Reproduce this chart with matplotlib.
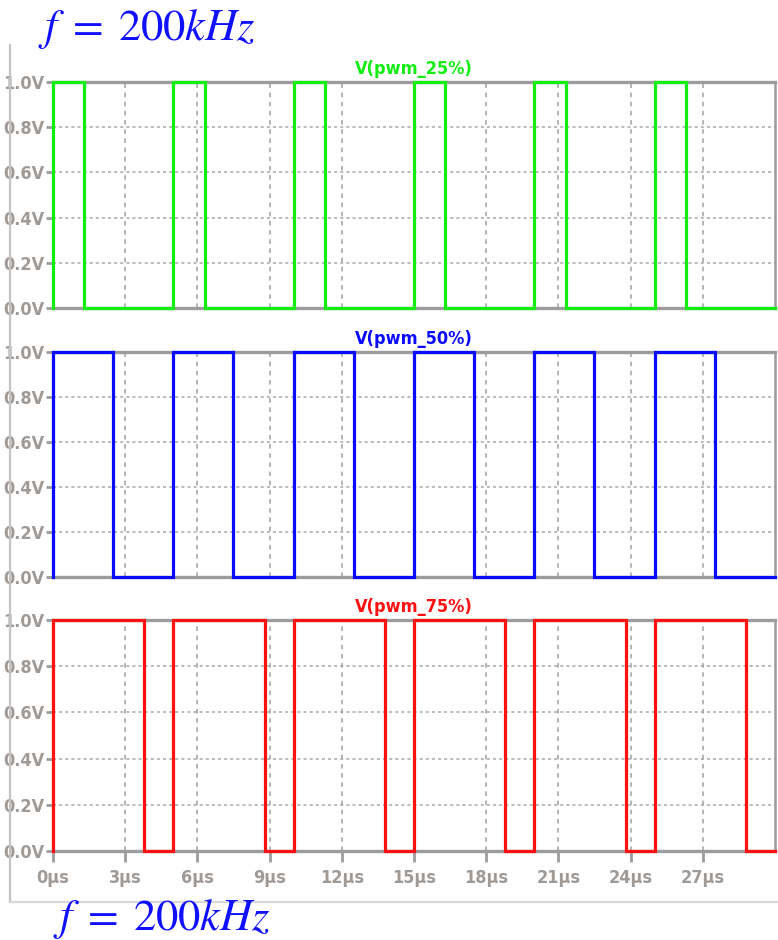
import matplotlib
matplotlib.use("Agg")
import matplotlib.pyplot as plt
from matplotlib.lines import Line2D
import numpy as np

# edge times in microseconds
names = ["V(pwm_25%)", "V(pwm_50%)", "V(pwm_75%)"]
colors = ["#12ee12", "#0a0aff", "#ff1010"]
rise_us = [0, 5, 10, 15, 20, 25]
fall_25 = [1.3, 6.3, 11.3, 16.3, 21.3, 26.3]
fall_50 = [2.5, 7.5, 12.5, 17.5, 22.5, 27.5]
fall_75 = [3.8, 8.8, 13.8, 18.8, 23.8, 28.8]
falls = [fall_25, fall_50, fall_75]
t_end = 30

yticks = [0.0, 0.2, 0.4, 0.6, 0.8, 1.0]
ylabels = ["0.0V", "0.2V", "0.4V", "0.6V", "0.8V", "1.0V"]
xticks = [0, 3, 6, 9, 12, 15, 18, 21, 24, 27]
xlabels = ["0µs", "3µs", "6µs", "9µs", "12µs", "15µs", "18µs", "21µs", "24µs", "27µs"]

GRAY = "#9c9c9c"
LBL = dict(family="DejaVu Sans", fontstretch="condensed", fontweight="bold", color="#a09a96")


def square(rise, fall, end):
    t, v = [], []
    for r, f in zip(rise, fall):
        t += [r, r, f, f]
        v += [0, 1, 1, 0]
    t.append(end)
    v.append(0)
    return np.array(t), np.array(v)


fig = plt.figure(figsize=(7.78, 9.40), dpi=100)
plt.rcParams["mathtext.fontset"] = "stix"

W = 778
H = 940
left = 53 / W
width = (775 - 53) / W
panels = [(82, 308), (352, 577), (620, 851)]

for i, (top, bot) in enumerate(panels):
    ax = fig.add_axes([left, 1 - bot / H, width, (bot - top) / H])
    t, v = square(rise_us, falls[i], t_end)
    ax.plot(t, v, color=colors[i], lw=2.3, solid_joinstyle="miter", zorder=3, clip_on=False)
    ax.set_xlim(0, 30)
    ax.set_ylim(0, 1)
    for y in yticks[1:-1]:
        ax.axhline(y, color="#a8a8a8", lw=1.1, ls=(0, (2, 2)), zorder=1)
    for x in xticks[1:]:
        ax.axvline(x, color="#a0a0a0", lw=1.1, ls=(0, (3, 3)), zorder=1)
    for s in ax.spines.values():
        s.set_color(GRAY)
    ax.spines["top"].set_linewidth(2.4)
    ax.spines["bottom"].set_linewidth(2.4)
    ax.spines["right"].set_linewidth(1.8)
    ax.spines["left"].set_linewidth(1.5)
    ax.set_yticks(yticks)
    ax.set_yticklabels(ylabels, fontsize=13, **LBL)
    ax.tick_params(axis="y", length=5, width=2, color=GRAY, pad=1)
    ax.set_xticks(xticks)
    if i == 2:
        ax.set_xticklabels(xlabels, fontsize=13, **LBL)
        ax.tick_params(axis="x", length=8, width=2, color=GRAY, pad=5)
    else:
        ax.tick_params(axis="x", length=0, labelbottom=False)
    ax.set_title(names[i], fontsize=13, color=colors[i], pad=6,
                 family="DejaVu Sans", fontstretch="condensed", fontweight="bold")

# window frame
fig.add_artist(Line2D([10 / W, 10 / W], [1 - 45 / H, 1 - 902 / H], color="#c4c4c4", lw=1.6))
fig.add_artist(Line2D([10 / W, 1], [1 - 902 / H, 1 - 902 / H], color="#d8d8d8", lw=1.6))

fig.text(38 / W, 1 - 40 / H, r"$f\;=\;200kHz$", fontsize=32, color="#1010ff", ha="left", va="baseline")
fig.text(53 / W, 1 - 930 / H, r"$f\;=\;200kHz$", fontsize=32, color="#1010ff", ha="left", va="baseline")

fig.savefig("out.png", dpi=100)
